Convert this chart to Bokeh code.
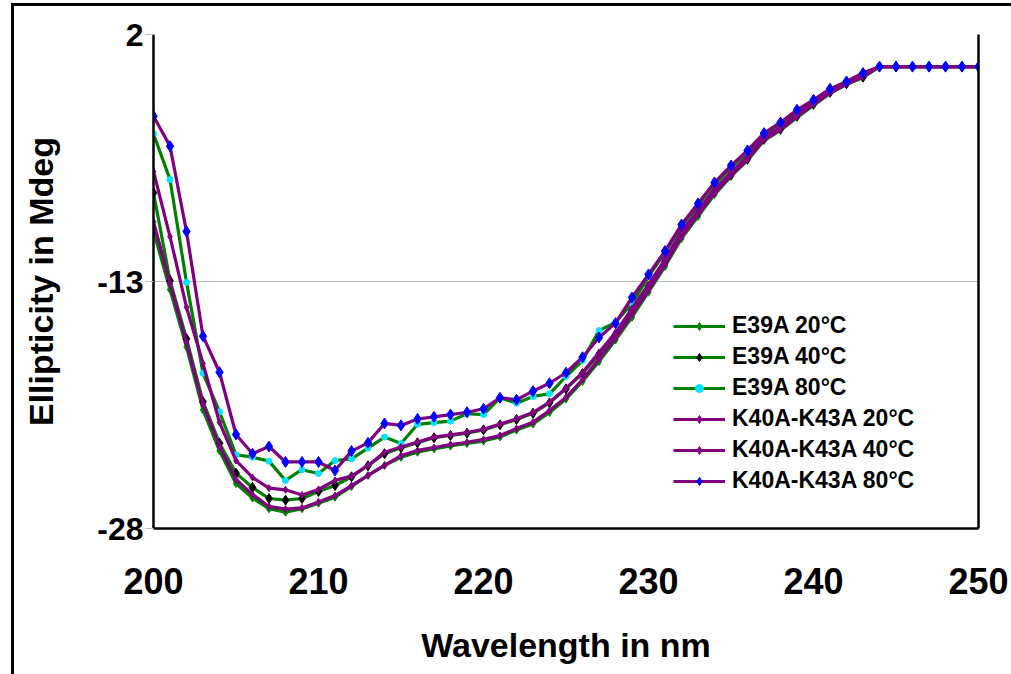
from bokeh.plotting import figure
from bokeh.models import Range1d, FixedTicker, Label, Legend, LegendItem, LinearAxis
from bokeh.embed import file_html
from bokeh.resources import INLINE

wavelength = list(range(200, 251))

e39a_20 = [-9.94, -13.49, -16.98, -20.80, -23.28, -25.27, -26.15, -26.80, -27.01, -26.80,
           -26.46, -26.10, -25.45, -24.78, -24.17, -23.67, -23.37, -23.16, -22.99, -22.84,
           -22.69, -22.44, -22.02, -21.65, -20.95, -20.14, -19.07, -17.86, -16.55, -15.17,
           -13.65, -12.09, -10.39, -9.05, -7.72, -6.62, -5.65, -4.44, -3.83, -3.04,
           -2.31, -1.58, -1.04, -0.61, 0.05, 0.05, 0.05, 0.05, 0.05, 0.05, 0.05]
e39a_40 = [-7.61, -12.94, -16.48, -20.30, -22.82, -24.64, -25.51, -26.18, -26.28, -26.18,
           -25.75, -25.39, -24.86, -24.19, -23.46, -23.09, -22.79, -22.49, -22.35, -22.21,
           -22.01, -21.70, -21.38, -21.00, -20.37, -19.52, -18.59, -17.43, -16.22, -14.76,
           -13.30, -11.77, -10.07, -8.79, -7.53, -6.50, -5.53, -4.32, -3.71, -2.92,
           -2.19, -1.50, -0.98, -0.59, 0.05, 0.05, 0.05, 0.05, 0.05, 0.05, 0.05]
e39a_80 = [-4.03, -6.81, -13.04, -18.57, -20.91, -23.52, -23.67, -23.91, -25.08, -24.43,
           -24.66, -23.87, -23.77, -23.12, -22.45, -22.84, -21.68, -21.57, -21.48, -21.03,
           -21.08, -20.06, -20.39, -19.98, -19.82, -18.77, -17.80, -15.98, -15.49, -14.34,
           -12.70, -11.24, -9.66, -8.38, -7.11, -6.08, -5.17, -4.07, -3.47, -2.68,
           -2.01, -1.40, -0.91, -0.37, 0.05, 0.05, 0.05, 0.05, 0.05, 0.05, 0.05]
k40a_20 = [-9.36, -13.12, -16.70, -20.47, -23.02, -25.02, -25.93, -26.66, -26.82, -26.75,
           -26.39, -26.00, -25.39, -24.78, -24.17, -23.57, -23.26, -23.08, -22.90, -22.76,
           -22.59, -22.35, -21.93, -21.54, -20.83, -20.03, -18.95, -17.71, -16.43, -15.00,
           -13.52, -11.97, -10.27, -8.93, -7.63, -6.56, -5.59, -4.38, -3.77, -2.98,
           -2.25, -1.55, -1.01, -0.55, 0.05, 0.05, 0.05, 0.05, 0.05, 0.05, 0.05]
k40a_40 = [-6.32, -10.27, -14.56, -17.98, -21.56, -23.87, -24.90, -25.55, -25.65, -25.96,
           -25.63, -25.08, -24.82, -24.17, -23.37, -23.05, -22.75, -22.45, -22.31, -22.17,
           -21.97, -21.66, -21.34, -20.96, -20.33, -19.48, -18.53, -17.31, -16.10, -14.64,
           -13.18, -11.66, -9.96, -8.69, -7.41, -6.38, -5.41, -4.25, -3.62, -2.86,
           -2.13, -1.46, -0.95, -0.49, 0.05, 0.05, 0.05, 0.05, 0.05, 0.05, 0.05]
k40a_80 = [-2.96, -4.78, -9.96, -16.32, -18.51, -22.29, -23.46, -23.02, -23.96, -23.96,
           -23.96, -24.48, -23.30, -22.80, -21.62, -21.74, -21.35, -21.22, -21.08, -20.94,
           -20.73, -20.06, -20.18, -19.66, -19.18, -18.54, -17.60, -16.40, -15.53, -13.97,
           -12.57, -11.15, -9.54, -8.26, -6.99, -5.96, -5.04, -3.99, -3.34, -2.57,
           -1.97, -1.30, -0.85, -0.34, 0.05, 0.05, 0.05, 0.05, 0.05, 0.05, 0.05]

series_labels = ["E39A 20°C", "E39A 40°C", "E39A 80°C",
                 "K40A-K43A 20°C", "K40A-K43A 40°C", "K40A-K43A 80°C"]
y_ticks = [-28, -13, 2]
y_tick_labels = {-28: "-28", -13: "-13", 2: "2"}
x_ticks = [200, 210, 220, 230, 240, 250]

FONT = "Liberation Sans"

p = figure(width=1011, height=674, output_backend="svg", toolbar_location=None,
           x_range=Range1d(200, 250), y_range=Range1d(-28, 2),
           min_border_left=153, min_border_right=33, min_border_top=34,
           min_border_bottom=146, border_fill_color=None,
           background_fill_color="white", outline_line_color=None)

p.styles = {
    "background-image": "linear-gradient(#000,#000), linear-gradient(#000,#000)",
    "background-size": "3px 100%, 100% 3px",
    "background-position": "11px 3px, 11px 3px",
    "background-repeat": "no-repeat",
}

# axes
p.xaxis.ticker = FixedTicker(ticks=x_ticks)
p.yaxis.ticker = FixedTicker(ticks=y_ticks)
p.yaxis.major_label_overrides = y_tick_labels
p.xgrid.visible = False
p.ygrid.ticker = FixedTicker(ticks=y_ticks)
p.ygrid.grid_line_color = "#bdbdbd"
p.ygrid.grid_line_width = 1

for ax in (p.xaxis[0], p.yaxis[0]):
    ax.axis_line_color = "black"
    ax.axis_line_width = 2.5
    ax.major_tick_in = 0
    ax.minor_tick_in = 0
    ax.minor_tick_out = 0
    ax.major_label_text_font = FONT
    ax.major_label_text_font_style = "bold"
    ax.major_label_text_color = "black"
    ax.axis_label_text_font = FONT
    ax.axis_label_text_font_style = "bold"
    ax.axis_label_text_font_size = "34px"
    ax.axis_label_text_color = "black"

p.xaxis.major_tick_out = 0
p.xaxis.major_label_text_font_size = "36px"
p.xaxis.major_label_standoff = 39
p.xaxis.axis_label = "Wavelength in nm"
p.xaxis.axis_label_standoff = 29

p.yaxis.major_tick_out = 8
p.yaxis.major_tick_line_color = "#bdbdbd"
p.yaxis.major_label_text_font_size = "32px"
p.yaxis.major_label_standoff = 2
p.yaxis.axis_label = "Ellipticity in Mdeg"
p.yaxis.axis_label_standoff = 34

right = LinearAxis(ticker=FixedTicker(ticks=[]), axis_line_color="black",
                   axis_line_width=2.5, major_tick_out=0, major_tick_in=0,
                   minor_tick_out=0, minor_tick_in=0,
                   major_label_text_font_size="0px")
p.add_layout(right, "right")

styles = [
    dict(line="#008000", marker="diamond", fill="#008000", size=8),
    dict(line="#008000", marker="diamond", fill="#000000", size=10),
    dict(line="#008000", marker="circle", fill="#00e5ff", size=6),
    dict(line="#800080", marker="diamond", fill="#800080", size=7),
    dict(line="#800080", marker="diamond", fill="#800080", size=7),
    dict(line="#800080", marker="diamond", fill="#0000ff", size=11),
]
all_series = [e39a_20, e39a_40, e39a_80, k40a_20, k40a_40, k40a_80]

items = []
for lab, ys, st in zip(series_labels, all_series, styles):
    lr = p.line(wavelength, ys, line_color=st["line"], line_width=3.2)
    sr = p.scatter(wavelength, ys, marker=st["marker"], size=st["size"],
                   fill_color=st["fill"], line_color=st["fill"])
    items.append(LegendItem(label=lab, renderers=[lr, sr]))

legend = Legend(items=items, location=(520, 34), padding=0, margin=0,
                border_line_alpha=0, background_fill_alpha=0,
                glyph_width=52, glyph_height=20, label_height=20, spacing=4,
                label_standoff=7, label_text_font=FONT,
                label_text_font_style="bold", label_text_font_size="23px",
                label_text_color="black")
p.add_layout(legend, "center")

p.add_layout(Label(x=192.18, y=0.66, text="B", text_font=FONT,
                   text_font_style="bold", text_font_size="44px",
                   text_color="black", text_baseline="alphabetic"))

open("out.html", "w").write(file_html(p, INLINE))
